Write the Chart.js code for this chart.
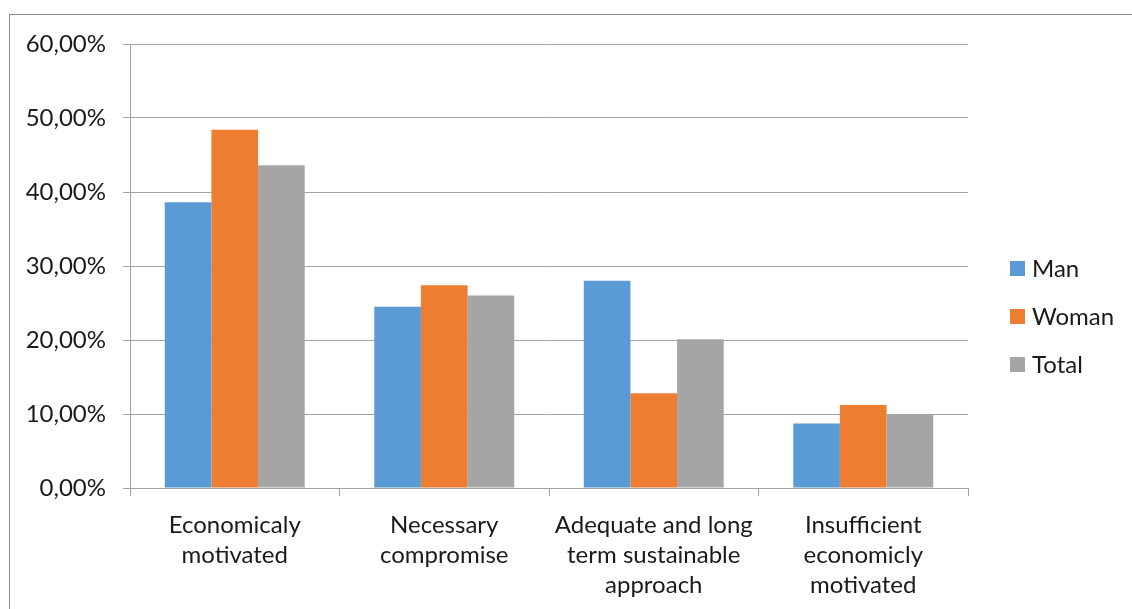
<!DOCTYPE html>
<html>
<head>
<meta charset="utf-8">
<script src="https://cdn.jsdelivr.net/npm/chart.js@4/dist/chart.umd.min.js"></script>
<style>
  html, body { margin: 0; padding: 0; background: #fff; overflow: hidden; }
  #moldura { position: absolute; left: 9px; top: 14px; width: 1300px; height: 800px; border: 1px solid #8e8e8e; box-sizing: border-box; }
  #caixa { position: absolute; left: 0; top: 0; width: 1132px; height: 609px; }
</style>
</head>
<body>
<div id="moldura"></div>
<div id="caixa"><canvas id="grafico"></canvas></div>
<script>
const categorias = [
  ["Economicaly", "motivated"],
  ["Necessary", "compromise"],
  ["Adequate and long", "term sustainable", "approach"],
  ["Insufficient", "economicly", "motivated"]
];
const serieNomes = ["Man", "Woman", "Total"];
const valoresMan = [38.6, 24.5, 28.0, 8.7];
const valoresWoman = [48.4, 27.4, 12.8, 11.2];
const valoresTotal = [43.6, 26.0, 20.1, 10.0];
const cores = ["#5b9bd5", "#ed7d31", "#a5a5a5"];
const ticksY = [0, 10, 20, 30, 40, 50, 60];

const fonte = "Lato";
const corGrade = "#a3a3a3";

// legenda desenhada ao lado, no estilo do Excel
const legendaLateral = {
  id: 'legendaLateral',
  afterDraw(chart) {
    const ctx = chart.ctx;
    const area = chart.chartArea;
    ctx.save();
    ctx.font = "24px " + fonte;
    ctx.textBaseline = "middle";
    ctx.textAlign = "left";
    chart.data.datasets.forEach((ds, i) => {
      const y = area.top + 225 + i * 48;
      ctx.fillStyle = ds.backgroundColor;
      ctx.fillRect(area.right + 42, y - 8, 15, 15);
      ctx.fillStyle = "#1a1a1a";
      ctx.fillText(ds.label, area.right + 64, y);
    });
    ctx.restore();
  }
};

const ctx = document.getElementById('grafico').getContext('2d');
const grafico = new Chart(ctx, {
  type: 'bar',
  data: {
    labels: categorias,
    datasets: [
      { label: serieNomes[0], data: valoresMan, backgroundColor: cores[0] },
      { label: serieNomes[1], data: valoresWoman, backgroundColor: cores[1] },
      { label: serieNomes[2], data: valoresTotal, backgroundColor: cores[2] }
    ]
  },
  options: {
    responsive: true,
    maintainAspectRatio: false,
    animation: false,
    categoryPercentage: 0.668,
    barPercentage: 1.0,
    layout: { padding: { top: 44, right: 164, bottom: 0, left: 0 } },
    scales: {
      x: {
        grid: { drawOnChartArea: false, drawTicks: true, tickLength: 8, color: corGrade, offset: true },
        border: { color: corGrade, width: 1 },
        ticks: {
          color: "#1a1a1a",
          padding: 14,
          maxRotation: 0,
          autoSkip: false,
          font: { family: fonte, size: 24, lineHeight: 1.25 }
        },
        afterFit: (escala) => { escala.height = 121; }
      },
      y: {
        min: 0,
        max: 60,
        afterBuildTicks: (escala) => { escala.ticks = ticksY.map(v => ({ value: v })); },
        grid: { color: corGrade, tickLength: 7, drawTicks: true },
        border: { color: corGrade, width: 1 },
        ticks: {
          color: "#1a1a1a",
          padding: 17,
          font: { family: fonte, size: 24 },
          callback: (v) => v.toFixed(2).replace('.', ',') + '%'
        },
        afterFit: (escala) => { escala.width = 130; }
      }
    },
    plugins: {
      legend: { display: false },
      tooltip: { enabled: false }
    }
  },
  plugins: [legendaLateral]
});
</script>
</body>
</html>
